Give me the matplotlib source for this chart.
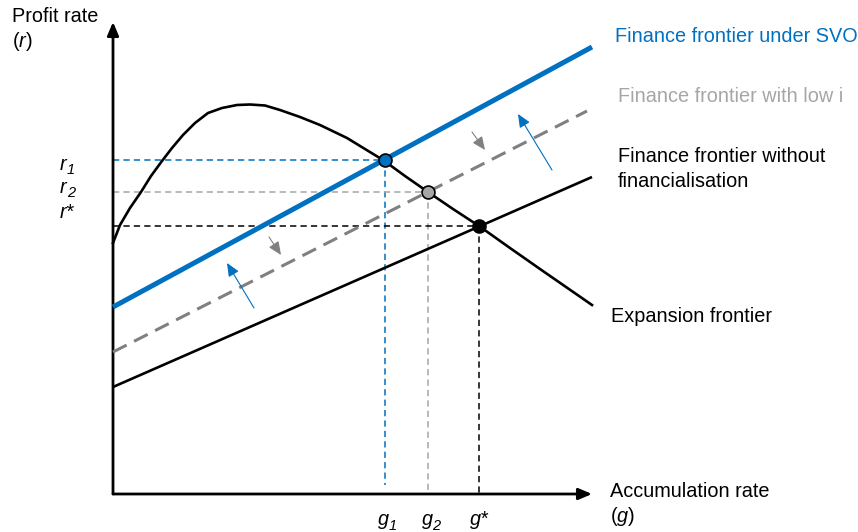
import matplotlib
matplotlib.use('Agg')
import matplotlib.pyplot as plt

plt.rcParams['font.family'] = ['Liberation Sans', 'DejaVu Sans']
plt.rcParams['mathtext.fontset'] = 'custom'
plt.rcParams['mathtext.it'] = 'Liberation Sans:italic'
plt.rcParams['mathtext.rm'] = 'Liberation Sans'
plt.rcParams['lines.scale_dashes'] = False

# ---- data (conceptual units: g to the right of origin, r above origin) ----
exp_g = [0, 7, 17, 28, 38, 49, 59, 70, 82, 95, 109, 124, 137, 152, 167, 187, 207, 234, 252, 270, 292, 315, 340, 366, 397, 427, 453, 479]
exp_r = [251, 269, 286, 302, 318, 333, 346, 359, 371, 381, 386, 389, 389.5, 388.5, 384, 377, 369, 356, 345, 334, 318, 302, 285, 268, 246, 225, 207, 189]

svo_g = [0, 479]
svo_r = [187, 447]
lowi_g = [0, 474]
lowi_r = [142, 383]
nofin_g = [0, 479]
nofin_r = [107, 317]

eq_g = [272, 315, 366]          # g1, g2, g*
eq_r = [334, 302, 268]          # r1, r2, r*
eq_fill = ['#0070C0', '#A6A6A6', '#000000']
guide_col = ['#0070C0', '#A6A6A6', '#000000']
guide_bottom = [9, 0, 0]

r_main = ['r', 'r', 'r*']
r_sub = ['1', '2', '']
g_main = ['g', 'g', 'g*']
g_sub = ['1', '2', '']

# shift arrows: (tail_g, tail_r, tip_g, tip_r)
blue_arrows = [(141, 186, 114, 231), (439, 324, 405, 380)]
gray_arrows = [(156, 257, 168, 239), (359, 362, 372, 344)]

BLUE = '#0070C0'
GRAY = '#808080'
LGRAY = '#A6A6A6'
FS = 14.3

fig = plt.figure(figsize=(8.58, 5.32), dpi=100)
ax = fig.add_axes([0, 0, 1, 1])
ax.set_xlim(-113, 745)
ax.set_ylim(-38, 494)
ax.axis('off')

# axes with arrows
ax.annotate('', xy=(0, 472), xytext=(0, 0),
            arrowprops=dict(arrowstyle='-|>,head_length=8,head_width=3.4', mutation_scale=1,
                            lw=2.0, color='black', shrinkA=0, shrinkB=0))
ax.annotate('', xy=(479, 0), xytext=(0, 0),
            arrowprops=dict(arrowstyle='-|>,head_length=8,head_width=3.4', mutation_scale=1,
                            lw=2.0, color='black', shrinkA=0, shrinkB=0))

# guide lines
for g, r, c, b in zip(eq_g, eq_r, guide_col, guide_bottom):
    ax.plot([0, g], [r, r], color=c, lw=1.1, dashes=(4.5, 3), zorder=2)
    ax.plot([g, g], [r, b], color=c, lw=1.1, dashes=(4.5, 3), zorder=2)

# frontiers
ax.plot(nofin_g, nofin_r, color='black', lw=1.9, zorder=3, solid_capstyle='butt')
ax.plot(lowi_g, lowi_r, color=GRAY, lw=2.2, dashes=(11, 6), zorder=3)
ax.plot(svo_g, svo_r, color=BLUE, lw=3.6, zorder=4, solid_capstyle='butt')
ax.plot(exp_g, exp_r, color='black', lw=1.9, zorder=3, solid_joinstyle='round')

# equilibrium points
for g, r, f in zip(eq_g, eq_r, eq_fill):
    ax.plot(g, r, 'o', ms=9.3, mfc=f, mec='black', mew=1.2, zorder=6)

# shift arrows
for tg, tr, hg, hr in blue_arrows:
    ax.annotate('', xy=(hg, hr), xytext=(tg, tr),
                arrowprops=dict(arrowstyle='-|>,head_length=8,head_width=3.5', mutation_scale=1,
                                lw=0.8, color=BLUE, shrinkA=0, shrinkB=0), zorder=5)
for tg, tr, hg, hr in gray_arrows:
    ax.annotate('', xy=(hg, hr), xytext=(tg, tr),
                arrowprops=dict(arrowstyle='-|>,head_length=8,head_width=3.5', mutation_scale=1,
                                lw=0.8, color=GRAY, shrinkA=0, shrinkB=0), zorder=5)

# axis labels
ax.text(-101, 472, 'Profit rate', fontsize=FS, ha='left', va='baseline')
ax.text(-101, 447, '($r$)', fontsize=FS, ha='left', va='baseline')
ax.text(497, -3, 'Accumulation rate', fontsize=FS, ha='left', va='baseline')
ax.text(497, -28, '($g$)', fontsize=FS, ha='left', va='baseline')

r_base = [324, 301, 276]
for m, s, rb in zip(r_main, r_sub, r_base):
    ax.text(-53, rb, m, fontsize=FS, style='italic', ha='left', va='baseline')
    if s:
        ax.text(-46, rb - 4, s, fontsize=10.5, style='italic', ha='left', va='baseline')
g_left = [265, 309, 357]
for m, s, gl in zip(g_main, g_sub, g_left):
    ax.text(gl, -31, m, fontsize=FS, style='italic', ha='left', va='baseline')
    if s:
        ax.text(gl + 10.5, -36, s, fontsize=10.5, style='italic', ha='left', va='baseline')

# curve labels
ax.text(502, 452, 'Finance frontier under SVO', fontsize=FS, color=BLUE, ha='left', va='baseline')
ax.text(505, 392, 'Finance frontier with low i', fontsize=FS, color=LGRAY, ha='left', va='baseline')
ax.text(505, 332, 'Finance frontier without', fontsize=FS, ha='left', va='baseline')
ax.text(505, 307, 'financialisation', fontsize=FS, ha='left', va='baseline')
ax.text(498, 172, 'Expansion frontier', fontsize=FS, ha='left', va='baseline')

fig.savefig('out.png', dpi=100)
